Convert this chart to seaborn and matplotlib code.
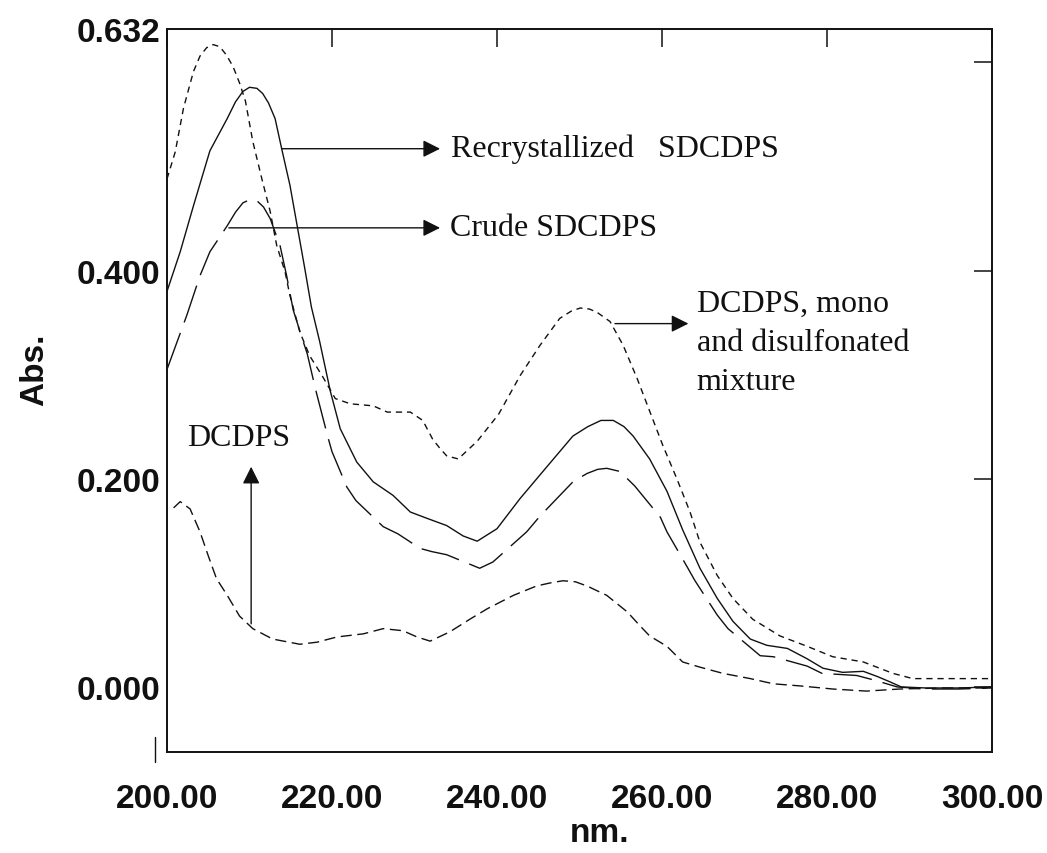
import numpy as np
import pandas as pd
import matplotlib
matplotlib.use("Agg")
import matplotlib.pyplot as plt
from matplotlib.lines import Line2D
import seaborn as sns

# ---------------- data ----------------
recryst_nm = [200.0, 201.6, 203.2, 205.2, 207.3, 208.3, 209.2, 210.0, 210.9, 211.6,
              212.3, 213.1, 213.9, 214.9, 215.8, 216.7, 217.5, 218.5, 219.8, 221.0,
              223.0, 225.0, 227.4, 229.5, 231.5, 233.9, 235.9, 237.6, 240.0, 242.8,
              246.1, 249.2, 251.0, 252.6, 254.1, 255.4, 256.5, 258.5, 260.6, 262.5,
              264.6, 266.7, 268.6, 270.7, 272.7, 275.2, 277.6, 279.5, 281.9, 284.4,
              286.1, 287.6, 289.0, 292.0, 296.0, 300.0]
recryst_abs = [0.380, 0.418, 0.462, 0.515, 0.546, 0.562, 0.572, 0.576, 0.575, 0.570,
               0.561, 0.546, 0.517, 0.482, 0.442, 0.402, 0.365, 0.332, 0.284, 0.248,
               0.216, 0.197, 0.184, 0.168, 0.162, 0.155, 0.145, 0.140, 0.152, 0.181,
               0.212, 0.241, 0.250, 0.256, 0.256, 0.250, 0.241, 0.219, 0.188, 0.151,
               0.114, 0.085, 0.063, 0.046, 0.040, 0.037, 0.027, 0.018, 0.014, 0.015,
               0.010, 0.005, 0.000, -0.001, -0.001, 0.000]

crude_nm = [200.0, 202.4, 204.0, 205.2, 207.3, 208.3, 209.2, 210.0, 210.9, 211.7,
            212.5, 213.7, 214.5, 215.3, 216.5, 217.0, 218.0, 219.5, 220.0, 221.8,
            222.9, 226.2, 228.0, 230.7, 232.1, 233.9, 237.9, 239.5, 243.6, 245.2,
            249.2, 250.9, 252.2, 253.3, 254.9, 256.7, 259.8, 260.6, 263.0, 264.0,
            266.7, 268.0, 271.9, 273.5, 277.6, 279.4, 283.6, 286.0, 288.5, 292.0,
            296.0, 300.0]
crude_abs = [0.305, 0.357, 0.395, 0.418, 0.443, 0.456, 0.465, 0.468, 0.467, 0.461,
             0.450, 0.424, 0.395, 0.362, 0.332, 0.320, 0.286, 0.240, 0.226, 0.192,
             0.179, 0.154, 0.147, 0.133, 0.130, 0.127, 0.114, 0.120, 0.149, 0.164,
             0.197, 0.205, 0.209, 0.210, 0.207, 0.193, 0.163, 0.149, 0.116, 0.102,
             0.069, 0.056, 0.030, 0.029, 0.020, 0.013, 0.011, 0.006, 0.000, -0.002,
             -0.002, -0.001]

mixture_nm = [200.0, 201.0, 202.0, 203.2, 204.0, 204.8, 205.6, 206.4, 207.2, 208.0,
              208.8, 209.5, 210.4, 211.5, 212.5, 213.3, 214.3, 214.9, 216.1, 217.3,
              218.8, 220.4, 222.2, 225.0, 226.7, 229.5, 231.0, 232.2, 233.1, 233.9,
              235.3, 237.6, 240.2, 242.8, 245.2, 247.6, 249.0, 250.1, 251.2, 252.1,
              253.7, 255.3, 257.0, 258.5, 260.1, 261.8, 263.4, 264.6, 266.7, 268.6,
              271.0, 274.3, 277.6, 280.7, 284.4, 288.0, 290.4, 295.0, 300.0]
mixture_abs = [0.488, 0.514, 0.556, 0.591, 0.606, 0.614, 0.617, 0.615, 0.607, 0.596,
               0.580, 0.563, 0.524, 0.488, 0.457, 0.424, 0.399, 0.376, 0.341, 0.318,
               0.299, 0.277, 0.272, 0.270, 0.264, 0.264, 0.256, 0.238, 0.229, 0.222,
               0.219, 0.236, 0.262, 0.299, 0.328, 0.354, 0.361, 0.364, 0.363, 0.360,
               0.351, 0.328, 0.296, 0.265, 0.232, 0.200, 0.168, 0.139, 0.107, 0.085,
               0.065, 0.049, 0.039, 0.029, 0.024, 0.013, 0.008, 0.008, 0.008]

dcdps_nm = [200.8, 201.6, 202.8, 204.0, 205.0, 206.0, 207.3, 208.8, 210.4, 212.8,
            216.1, 218.2, 220.6, 223.8, 226.2, 228.6, 230.3, 231.9, 234.3, 236.7,
            238.8, 242.0, 244.8, 246.5, 248.0, 249.5, 250.9, 253.3, 255.8, 257.3,
            258.5, 260.6, 262.5, 264.6, 267.4, 270.7, 273.5, 276.7, 280.7, 284.8,
            288.8, 294.0, 300.0]
dcdps_abs = [0.172, 0.178, 0.171, 0.149, 0.126, 0.104, 0.088, 0.068, 0.056, 0.046,
             0.041, 0.043, 0.048, 0.051, 0.056, 0.054, 0.048, 0.044, 0.053, 0.065,
             0.075, 0.088, 0.097, 0.100, 0.102, 0.101, 0.097, 0.088, 0.072, 0.059,
             0.049, 0.039, 0.024, 0.019, 0.013, 0.008, 0.003, 0.001, -0.002, -0.004,
             -0.002, -0.001, -0.001]

series_names = ["Recrystallized SDCDPS", "Crude SDCDPS", "Mixture", "DCDPS"]
x_ticks = [200, 220, 240, 260, 280, 300]
x_tick_labels = ["200.00", "220.00", "240.00", "260.00", "280.00", "300.00"]
y_ticks = [0.0, 0.2, 0.4, 0.6, 0.632]
y_tick_labels = ["0.000", "0.200", "0.400", "", "0.632"]

# ---------------- build long-form table ----------------
frames = []
for name, xs, ys in zip(series_names,
                        [recryst_nm, crude_nm, mixture_nm, dcdps_nm],
                        [recryst_abs, crude_abs, mixture_abs, dcdps_abs]):
    frames.append(pd.DataFrame({"nm": xs, "abs": ys, "series": name}))
df = pd.concat(frames, ignore_index=True)

# ---------------- style ----------------
sns.set_style("white")
plt.rcParams["font.family"] = ["Liberation Sans", "DejaVu Sans"]
plt.rcParams["axes.edgecolor"] = "#111111"
plt.rcParams["axes.linewidth"] = 1.4

fig = plt.figure(figsize=(10.47, 8.54), dpi=100)
ax = fig.add_axes([167 / 1047, 1 - 753 / 854, 825 / 1047, 723 / 854])

dash_map = {
    "Recrystallized SDCDPS": "",
    "Crude SDCDPS": (28, 8),
    "Mixture": (4.5, 3.5),
    "DCDPS": (8, 4),
}
sns.lineplot(data=df, x="nm", y="abs", style="series", dashes=dash_map,
             color="#111111", linewidth=1.0, estimator=None, sort=False,
             legend=False, ax=ax)

ax.set_xlim(200, 300)
ax.set_ylim(-0.0625, 0.632)
ax.set_xticks(x_ticks)
ax.set_xticklabels(x_tick_labels)
ax.set_yticks(y_ticks)
ax.set_yticklabels(y_tick_labels)
for s in ax.spines.values():
    s.set_visible(True)
    s.set_color("#111111")
    s.set_linewidth(1.4)

ax.tick_params(axis="both", direction="in", length=13, width=1.1, color="#111111",
               top=True, right=True, labelsize=24, labelcolor="#111111")
ax.tick_params(axis="x", pad=22)
ax.tick_params(axis="y", pad=5)
for lab in ax.get_xticklabels() + ax.get_yticklabels():
    lab.set_fontweight("bold")
top_tick = ax.yaxis.get_major_ticks()[-1]
top_tick.tick1line.set_visible(False)
top_tick.tick2line.set_visible(False)

ax.set_xlabel("nm.", fontsize=24, fontweight="bold", color="#111111")
ax.set_ylabel("Abs.", fontsize=24, fontweight="bold", color="#111111")
ax.xaxis.set_label_coords((600 - 167) / 825, (753 - 834) / 723)
ax.xaxis.label.set_va("center")
ax.yaxis.set_label_coords((35 - 167) / 825, (753 - 370) / 723)
ax.yaxis.label.set_va("center")

# ---------------- annotations ----------------
serif = ["Liberation Serif", "DejaVu Serif"]
arrow_kw = dict(arrowstyle="-|>", mutation_scale=26, lw=1.0, color="#111111",
                shrinkA=0, shrinkB=0)

ax.annotate("", xy=(233.1, 0.517), xytext=(213.9, 0.517), arrowprops=arrow_kw)
ax.text(234.4, 0.517, "Recrystallized   SDCDPS", fontsize=23, family=serif,
        va="center", ha="left", color="#111111")

ax.annotate("", xy=(233.1, 0.441), xytext=(207.5, 0.441), arrowprops=arrow_kw)
ax.text(234.3, 0.441, "Crude SDCDPS", fontsize=23, family=serif,
        va="center", ha="left", color="#111111")

ax.annotate("", xy=(263.2, 0.349), xytext=(254.3, 0.349), arrowprops=arrow_kw)
ax.text(264.2, 0.382, "DCDPS, mono\nand disulfonated\nmixture", fontsize=23,
        family=serif, va="top", ha="left", linespacing=1.45, color="#111111")

ax.annotate("", xy=(210.2, 0.2115), xytext=(210.2, 0.0606), arrowprops=arrow_kw)
ax.text(208.7, 0.240, "DCDPS", fontsize=23, family=serif,
        va="center", ha="center", color="#111111")

# small stray mark at the lower left of the y axis
fig.add_artist(Line2D([155 / 1047, 155 / 1047], [1 - 738 / 854, 1 - 763 / 854],
                      transform=fig.transFigure, color="#111111", lw=1.0))

fig.savefig("out.png", dpi=100, facecolor="white")
